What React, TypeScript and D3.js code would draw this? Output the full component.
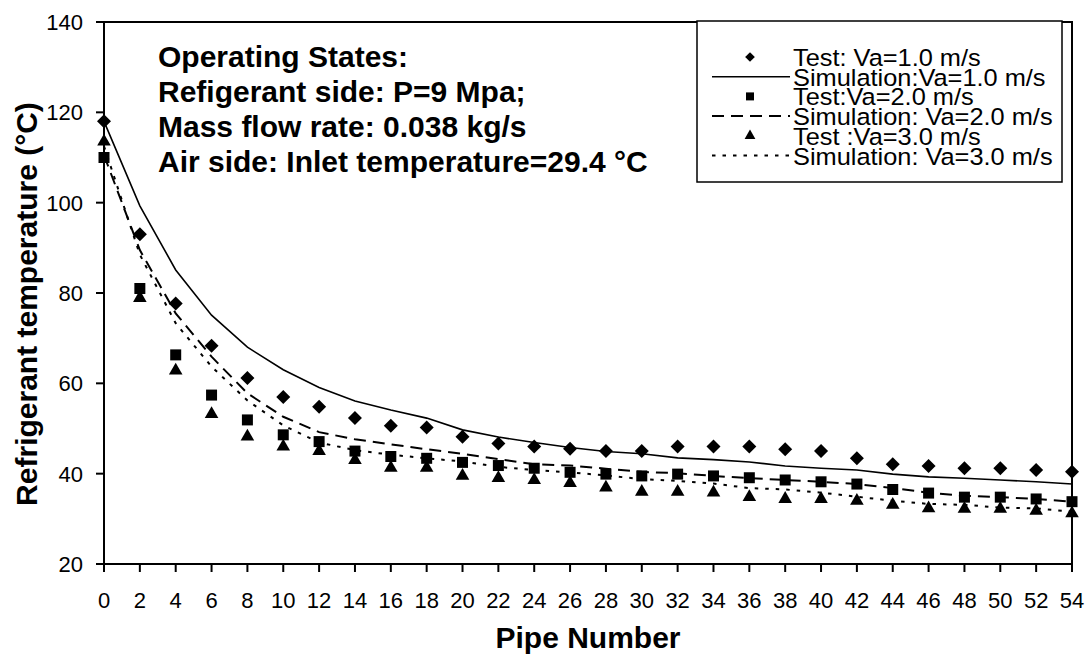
import React from "react";
import * as d3 from "d3";

const pipes = [0, 2, 4, 6, 8, 10, 12, 14, 16, 18, 20, 22, 24, 26, 28, 30, 32, 34, 36, 38, 40, 42, 44, 46, 48, 50, 52, 54];

const testVa1 = [118, 93, 77.7, 68.3, 61.2, 57, 54.8, 52.3, 50.6, 50.2, 48.2, 46.7, 46, 45.5, 45, 45, 46, 46, 46, 45.4, 45, 43.4, 42.1, 41.7, 41.2, 41.2, 40.8, 40.4];
const simVa1 = [118, 99.3, 85.1, 75.1, 68, 63, 59.1, 56.1, 54.1, 52.3, 49.7, 48.1, 46.9, 45.8, 44.9, 44.4, 43.5, 43.1, 42.6, 41.7, 41.2, 40.8, 39.9, 39.3, 39.0, 38.6, 38.2, 37.7];
const testVa2 = [110, 81, 66.3, 57.4, 51.9, 48.6, 47.1, 45, 43.8, 43.4, 42.5, 41.8, 41.2, 40.3, 39.9, 39.5, 39.9, 39.5, 39.1, 38.6, 38.2, 37.7, 36.5, 35.7, 34.8, 34.8, 34.4, 33.8];
const simVa2 = [110.5, 89.5, 75.5, 65.9, 57.8, 52.6, 49.2, 47.6, 46.5, 45.4, 44.4, 43.2, 42.1, 41.8, 41.1, 40.4, 40.1, 39.5, 39.0, 38.6, 38.2, 37.7, 36.8, 35.8, 35.1, 34.8, 34.4, 33.8];
const testVa3 = [113.5, 78.9, 62.8, 53.2, 48.2, 46, 45, 43, 41.3, 41.3, 39.5, 39, 38.6, 37.9, 36.9, 36, 36, 35.8, 34.8, 34.4, 34.4, 34, 33.1, 32.3, 32.2, 32.2, 31.8, 31.2];
const simVa3 = [112.5, 88.5, 73.3, 63.7, 56.2, 50.7, 46.9, 45.2, 44.2, 43.4, 42.7, 41.5, 40.8, 40.3, 39.6, 38.8, 38.4, 37.8, 36.8, 36.5, 35.8, 34.9, 34.0, 33.3, 33.1, 32.5, 32.3, 31.6];

const yTicks = [20, 40, 60, 80, 100, 120, 140];
const xTicks = pipes;

const annotation = [
  "Operating States:",
  "Refigerant side: P=9 Mpa;",
  "Mass flow rate: 0.038 kg/s",
  "Air side: Inlet temperature=29.4 °C",
];

const legendLabels = [
  "Test: Va=1.0 m/s",
  "Simulation:Va=1.0 m/s",
  "Test:Va=2.0 m/s",
  "Simulation: Va=2.0 m/s",
  "Test :Va=3.0 m/s",
  "Simulation: Va=3.0 m/s",
];

const FONT = "'Liberation Sans', Arial, Helvetica, sans-serif";

export default function App() {
  const W = 1089, H = 657;
  const L = 104, R = 1072, T = 22, B = 564;
  const x = d3.scaleLinear().domain([0, 54]).range([L, R]);
  const y = d3.scaleLinear().domain([20, 140]).range([B, T]);

  const line = d3.line<number>().x((_, i) => x(pipes[i])).y((d) => y(d));

  const diamondType = (d3 as any).symbolDiamond2 || d3.symbolDiamond;
  const diamond = d3.symbol().type(diamondType).size(125)();
  const square = d3.symbol().type(d3.symbolSquare).size(121)();
  const triangle = d3.symbol().type(d3.symbolTriangle).size(80)();
  const diamondS = d3.symbol().type(diamondType).size(60)();
  const squareS = d3.symbol().type(d3.symbolSquare).size(64)();
  const triangleS = d3.symbol().type(d3.symbolTriangle).size(50)();

  const sims = [
    { data: simVa1, dash: "none", w: 1.6 },
    { data: simVa2, dash: "12,7", w: 2 },
    { data: simVa3, dash: "3.5,7", w: 2 },
  ];
  const tests = [
    { data: testVa1, path: diamond },
    { data: testVa2, path: square },
    { data: testVa3, path: triangle },
  ];

  const legBase = [66, 85.7, 105.4, 125, 144.8, 164.5];

  return (
    <svg width={W} height={H} style={{ position: "absolute", left: 0, top: 0, background: "#fff" }} fontFamily={FONT}>
      <rect x={0} y={0} width={W} height={H} fill="#fff" />
      <rect x={L} y={T} width={R - L} height={B - T} fill="none" stroke="#000" strokeWidth={2} />
      {yTicks.map((t) => (
        <g key={"y" + t}>
          <line x1={L - 8} x2={L} y1={y(t)} y2={y(t)} stroke="#000" strokeWidth={2} />
          <text x={83} y={y(t)} dy="0.36em" textAnchor="end" fontSize={22}>{t}</text>
        </g>
      ))}
      {xTicks.map((t) => (
        <g key={"x" + t}>
          <line x1={x(t)} x2={x(t)} y1={B} y2={B + 8} stroke="#000" strokeWidth={2} />
          <text x={x(t)} y={608} textAnchor="middle" fontSize={22}>{t}</text>
        </g>
      ))}
      <text x={(L + R) / 2} y={648} textAnchor="middle" fontSize={30} fontWeight="bold">Pipe Number</text>
      <text transform={`translate(37,${(T + B) / 2 + 11}) rotate(-90)`} textAnchor="middle" fontSize={30} fontWeight="bold">Refrigerant temperature (°C)</text>

      {sims.map((s, i) => (
        <path key={"s" + i} d={line(s.data) || ""} fill="none" stroke="#000" strokeWidth={s.w} strokeDasharray={s.dash} />
      ))}
      {tests.map((s, i) => (
        <g key={"t" + i}>
          {s.data.map((v, j) => (
            <path key={j} d={s.path || ""} transform={`translate(${x(pipes[j])},${y(v)})`} fill="#000" />
          ))}
        </g>
      ))}

      {annotation.map((a, i) => (
        <text key={"a" + i} x={158} y={67 + i * 35} fontSize={30} fontWeight="bold">{a}</text>
      ))}

      <rect x={697} y={21} width={365} height={161} fill="#fff" stroke="#000" strokeWidth={1.5} />
      {legendLabels.map((lab, i) => {
        const by = legBase[i];
        const cy = by - 9;
        let sym: React.ReactNode = null;
        if (i === 0) sym = <path d={diamondS || ""} transform={`translate(750,${cy})`} fill="#000" />;
        if (i === 2) sym = <path d={squareS || ""} transform={`translate(750,${cy})`} fill="#000" />;
        if (i === 4) sym = <path d={triangleS || ""} transform={`translate(750,${cy})`} fill="#000" />;
        if (i === 1) sym = <line x1={712} x2={790} y1={cy} y2={cy} stroke="#000" strokeWidth={1.6} />;
        if (i === 3) sym = <line x1={712} x2={790} y1={cy} y2={cy} stroke="#000" strokeWidth={2} strokeDasharray="12,7" />;
        if (i === 5) sym = <line x1={712} x2={790} y1={cy} y2={cy} stroke="#000" strokeWidth={2} strokeDasharray="3.5,7" />;
        return (
          <g key={"l" + i}>
            {sym}
            <text transform={`translate(793,${by}) scale(1.08,1)`} x={0} y={0} fontSize={23.5}>{lab}</text>
          </g>
        );
      })}
    </svg>
  );
}
